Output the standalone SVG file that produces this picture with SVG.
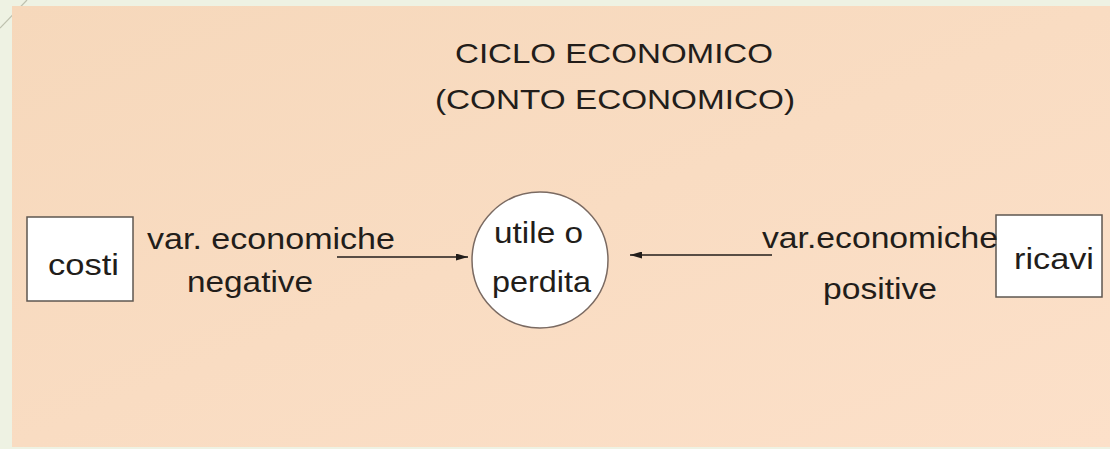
<svg xmlns="http://www.w3.org/2000/svg" width="1110" height="449" viewBox="0 0 1110 449">
  <style>
    .t { font-family: "Liberation Sans", Arial, sans-serif; font-size: 30px; fill: #221d1a; }
    .title { font-family: "Liberation Sans", Arial, sans-serif; font-size: 28px; fill: #221d1a; }
    .box { fill: #ffffff; stroke: #5e5750; stroke-width: 1.5; }
    .conn { stroke: #221d1a; stroke-width: 1.4; fill: none; }
  </style>
  <defs>
    <linearGradient id="bg" x1="0" y1="0" x2="1" y2="1">
      <stop offset="0" stop-color="#F6D8BB"/>
      <stop offset="1" stop-color="#FCE0C9"/>
    </linearGradient>
    <marker id="ah" viewBox="0 0 12 7" refX="12" refY="3.5" markerWidth="12" markerHeight="7" markerUnits="userSpaceOnUse" orient="auto">
      <path d="M0,0 L12,3.5 L0,7 Z" fill="#221d1a"/>
    </marker>
  </defs>
  <rect x="0" y="0" width="1110" height="449" fill="#EEF2E3"/>
  <line x1="0" y1="28" x2="27" y2="0" stroke="#BDC0AE" stroke-width="1.2"/>
  <rect x="12" y="6" width="1098" height="441" fill="url(#bg)"/>

  <g id="title">
    <text class="title" x="455" y="63" textLength="318" lengthAdjust="spacingAndGlyphs">CICLO ECONOMICO</text>
    <text class="title" x="435" y="109" textLength="360" lengthAdjust="spacingAndGlyphs">(CONTO ECONOMICO)</text>
  </g>

  <g id="costi">
    <rect class="box" x="27" y="217" width="106" height="84"/>
    <text class="t" x="48" y="275" textLength="71" lengthAdjust="spacingAndGlyphs">costi</text>
  </g>

  <g id="utile">
    <circle cx="540" cy="260" r="68" fill="#ffffff" stroke="#7a6a62" stroke-width="1.5"/>
    <text class="t" x="494" y="243" textLength="89" lengthAdjust="spacingAndGlyphs">utile o</text>
    <text class="t" x="492" y="292" textLength="99" lengthAdjust="spacingAndGlyphs">perdita</text>
  </g>

  <g id="ricavi">
    <rect class="box" x="996" y="215" width="106" height="82"/>
    <text class="t" x="1014" y="269" textLength="80" lengthAdjust="spacingAndGlyphs">ricavi</text>
  </g>

  <g id="connectors">
    <line class="conn" x1="337" y1="257" x2="468" y2="257" marker-end="url(#ah)"/>
    <line class="conn" x1="772" y1="255" x2="630" y2="255" marker-end="url(#ah)"/>
  </g>

  <g id="labels">
    <text class="t" x="147" y="249" textLength="248" lengthAdjust="spacingAndGlyphs">var. economiche</text>
    <text class="t" x="187" y="292" textLength="126" lengthAdjust="spacingAndGlyphs">negative</text>
    <text class="t" x="762" y="248" textLength="236" lengthAdjust="spacingAndGlyphs">var.economiche</text>
    <text class="t" x="823" y="299" textLength="114" lengthAdjust="spacingAndGlyphs">positive</text>
  </g>
</svg>
